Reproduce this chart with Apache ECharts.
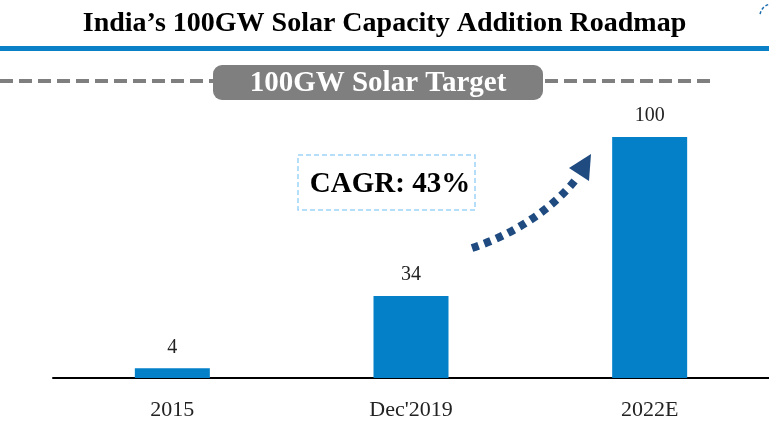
<!DOCTYPE html>
<html><head><meta charset="utf-8">
<script src="https://cdn.jsdelivr.net/npm/echarts@6/dist/echarts.min.js"></script>
<style>html,body{margin:0;padding:0;background:#fff}#c{width:769px;height:425px}</style>
</head><body><div id="c"></div>
<script>
const categories = ["2015", "Dec'2019", "2022E"];
const capacityGW = [4, 34, 100];
const titleText = "India\u2019s 100GW Solar Capacity Addition Roadmap";
const targetText = "100GW Solar Target";
const cagrText = "CAGR: 43%";

const serif = "'Liberation Serif', 'DejaVu Serif', serif";
const chart = echarts.init(document.getElementById('c'), null, {renderer: 'canvas'});
chart.setOption({
  animation: false,
  title: {
    text: titleText, left: 'center', top: 5,
    textStyle: {fontFamily: serif, fontSize: 28, fontWeight: 'bold', color: '#000'}
  },
  grid: {left: 53, right: 0, top: 137, bottom: 47},
  xAxis: {
    type: 'category', data: categories,
    axisLine: {lineStyle: {color: '#000', width: 2}},
    axisTick: {show: false},
    axisLabel: {fontFamily: serif, fontSize: 22, color: '#222', margin: 21}
  },
  yAxis: {type: 'value', min: 0, max: 100, show: false, splitLine: {show: false}},
  series: [{
    type: 'bar', data: capacityGW, barWidth: 75,
    itemStyle: {color: '#0480C8'},
    label: {show: true, position: 'top', distance: 11, fontFamily: serif, fontSize: 20, color: '#222'}
  }],
  graphic: [
    {type: 'rect', shape: {x: 0, y: 46, width: 769, height: 5}, style: {fill: '#0A80C6'}},
    {type: 'line', shape: {x1: 0, y1: 81, x2: 213, y2: 81}, style: {stroke: '#7F7F7F', lineWidth: 4, lineDash: [13, 6]}},
    {type: 'line', shape: {x1: 545, y1: 81, x2: 712, y2: 81}, style: {stroke: '#7F7F7F', lineWidth: 4, lineDash: [13, 6]}},
    {type: 'rect', shape: {x: 213, y: 65, width: 330, height: 35, r: 9}, style: {fill: '#7F7F7F'}},
    {type: 'text', x: 378, y: 84, style: {text: targetText, fill: '#fff', font: "bold 29px 'Liberation Serif', serif", align: 'center', verticalAlign: 'middle'}},
    {type: 'rect', shape: {x: 298, y: 155, width: 177, height: 55}, style: {fill: 'none', stroke: '#9DD3F7', lineWidth: 1.5, lineDash: [5, 3]}},
    {type: 'text', x: 390, y: 185, style: {text: cagrText, fill: '#000', font: "bold 29px 'Liberation Serif', serif", align: 'center', verticalAlign: 'middle'}},
    {type: 'bezierCurve', shape: {x1: 472, y1: 248, cpx1: 512, cpy1: 235, cpx2: 552, cpy2: 210, x2: 577, y2: 178}, style: {stroke: '#1F4B80', lineWidth: 8, lineDash: [7, 6], fill: 'none'}},
    {type: 'polygon', shape: {points: [[591, 154], [569, 168], [589, 181]]}, style: {fill: '#1F4B80'}},
    {type: 'arc', shape: {cx: 772, cy: 16, r: 12, startAngle: Math.PI * 1.05, endAngle: Math.PI * 1.45}, style: {stroke: '#1F6FB0', lineWidth: 1.5, lineDash: [3, 2], fill: 'none'}}
  ]
});
</script></body></html>
